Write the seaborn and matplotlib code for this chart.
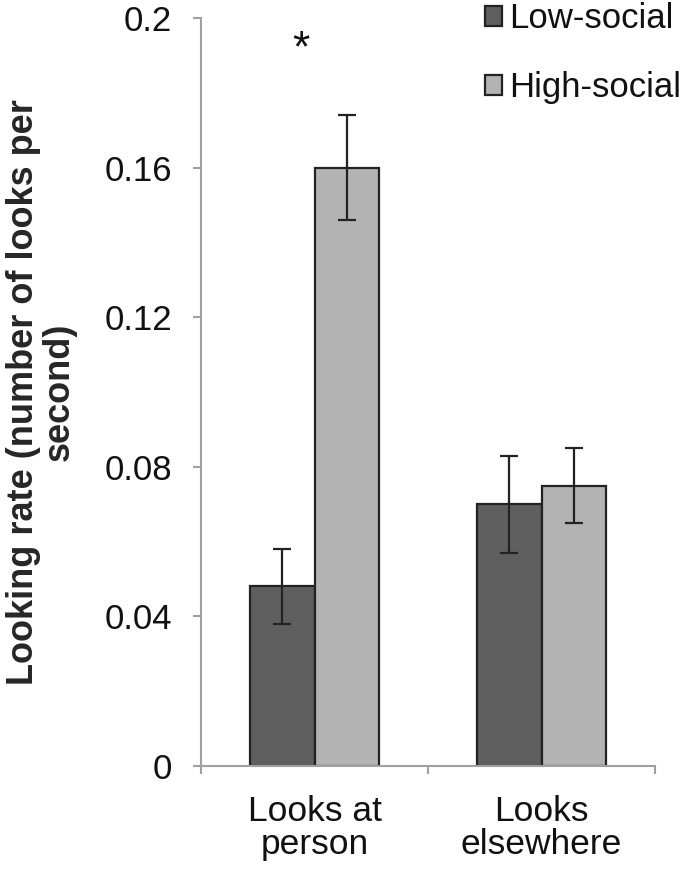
import numpy as np
import pandas as pd
import matplotlib
matplotlib.use("Agg")
from matplotlib import pyplot as plt
import seaborn as sns

# looking rate (looks per second)
categories = ["Looks at\nperson", "Looks\nelsewhere"]
groups = ["Low-social", "High-social"]
low_social = [0.048, 0.070]
high_social = [0.160, 0.075]
low_err = [0.010, 0.013]
high_err = [0.014, 0.010]
y_ticks = [0, 0.04, 0.08, 0.12, 0.16, 0.2]
y_ticklabels = ["0", "0.04", "0.08", "0.12", "0.16", "0.2"]

df = pd.DataFrame({
    "condition": categories * 2,
    "group": [groups[0]] * 2 + [groups[1]] * 2,
    "rate": low_social + high_social,
})
errs = [low_err, high_err]

sns.set_style("white")
plt.rcParams["font.family"] = ["Liberation Sans", "DejaVu Sans"]
plt.rcParams["text.color"] = "#111111"
plt.rcParams["xtick.labelcolor"] = "#111111"
plt.rcParams["ytick.labelcolor"] = "#111111"

axis_grey = "#a0a0a0"
dark = "#222222"

fig = plt.figure(figsize=(6.85, 8.75), dpi=100)
ax = fig.add_axes([201 / 685, 1 - 766 / 875, 454 / 685, 748 / 875])

sns.barplot(data=df, x="condition", y="rate", hue="group",
            order=categories, hue_order=groups,
            palette=["#5f5f5f", "#b3b3b3"], width=0.57, errorbar=None,
            edgecolor=dark, linewidth=1.6, ax=ax)

# error bars on the bar centres seaborn placed
for cont, e in zip(ax.containers, errs):
    xs = [b.get_x() + b.get_width() / 2 for b in cont]
    ys = [b.get_height() for b in cont]
    ax.errorbar(xs, ys, yerr=e, fmt="none", ecolor=dark, elinewidth=1.6,
                capsize=6.5, capthick=1.6)

# significance marker
ax.text(-0.06, 0.1885, "*", ha="center", va="baseline", fontsize=32)

ax.set_ylim(0, 0.2)
ax.set_xlim(-0.5, 1.5)
ax.set_yticks(y_ticks)
ax.set_yticklabels(y_ticklabels)
ax.tick_params(axis="y", length=6, width=1.5, color=axis_grey, direction="out",
               pad=15, labelsize=25, left=True)
ax.tick_params(axis="x", which="major", length=0, pad=21, labelsize=25.5)
ax.set_xticks([-0.5, 0.5, 1.5], minor=True)
ax.tick_params(axis="x", which="minor", length=6, width=1.5, color=axis_grey,
               direction="out", bottom=True)
for lab in ax.get_xticklabels():
    lab.set_linespacing(1.0)

for s in ["top", "right"]:
    ax.spines[s].set_visible(False)
for s in ["left", "bottom"]:
    ax.spines[s].set_color(axis_grey)
    ax.spines[s].set_linewidth(1.5)

ax.set_xlabel("")
ax.set_ylabel("Looking rate (number of looks per\nsecond)", fontsize=26,
              fontweight="bold", linespacing=1.05)
ax.yaxis.set_label_coords(-0.273, 0.5)

handles, labels = ax.get_legend_handles_labels()
ax.legend(handles, labels, loc="upper left",
          bbox_to_anchor=(485 / 685, 1 - 2 / 875),
          bbox_transform=fig.transFigure, frameon=False, fontsize=25,
          handlelength=0.5, handleheight=0.5, handletextpad=0.2,
          labelspacing=1.05, borderpad=0, borderaxespad=0)

plt.savefig("out.png", dpi=100)
plt.close()
